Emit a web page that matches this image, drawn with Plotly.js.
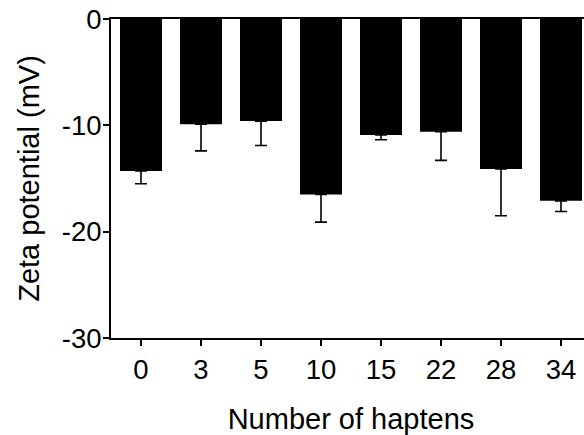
<!DOCTYPE html>
<html>
<head>
<meta charset="utf-8">
<script src="https://cdn.plot.ly/plotly-3.0.1.min.js"></script>
<style>
html, body { margin: 0; padding: 0; overflow: hidden; background: #fff; }
#chart { width: 591px; height: 435px; }
</style>
</head>
<body>
<div id="chart"></div>
<script>
const categories = ['0', '3', '5', '10', '15', '22', '28', '34'];
const zetaValues = [-14.3, -9.9, -9.6, -16.5, -10.9, -10.6, -14.1, -17.1];
const zetaErrors = [1.2, 2.5, 2.3, 2.6, 0.45, 2.7, 4.4, 1.0];
const yTickVals = [-30, -20, -10, 0];
const yTickText = ['-30', '-20', '-10', '0'];

const FONT = 'Liberation Sans, Arial, Helvetica, sans-serif';

const trace = {
  type: 'bar',
  x: categories,
  y: zetaValues,
  width: 0.7,
  marker: { color: '#000000', line: { width: 0 } },
  error_y: {
    type: 'data',
    symmetric: false,
    array: categories.map(() => 0),
    arrayminus: zetaErrors,
    color: '#000000',
    thickness: 1.6,
    width: 6
  },
  hoverinfo: 'none'
};

const layout = {
  width: 591,
  height: 435,
  margin: { l: 111, r: 0, t: 19, b: 97, pad: 0 },
  paper_bgcolor: '#ffffff',
  plot_bgcolor: '#ffffff',
  showlegend: false,
  font: { family: FONT, color: '#000000', size: 27 },
  xaxis: {
    type: 'category',
    range: [-0.5, 7.5],
    showline: true,
    linecolor: '#000000',
    linewidth: 2,
    mirror: true,
    ticks: 'outside',
    ticklen: 6,
    tickwidth: 2,
    tickcolor: '#000000',
    showgrid: false,
    zeroline: false,
    automargin: false,
    tickfont: { family: FONT, size: 27.5, color: '#000000' },
    title: { text: 'Number of haptens', font: { family: FONT, size: 29, color: '#000000' }, standoff: 34 }
  },
  yaxis: {
    range: [-30, 0],
    tickvals: yTickVals,
    ticktext: yTickText,
    showline: true,
    linecolor: '#000000',
    linewidth: 2,
    ticks: 'outside',
    ticklen: 6,
    tickwidth: 2,
    tickcolor: '#000000',
    ticklabelstandoff: -4,
    showgrid: false,
    zeroline: false,
    automargin: false,
    tickfont: { family: FONT, size: 27.5, color: '#000000' },
    title: { text: 'Zeta potential (mV)', font: { family: FONT, size: 29, color: '#000000' }, standoff: 14 }
  }
};

Plotly.newPlot('chart', [trace], layout, { staticPlot: true, displayModeBar: false });
</script>
</body>
</html>
